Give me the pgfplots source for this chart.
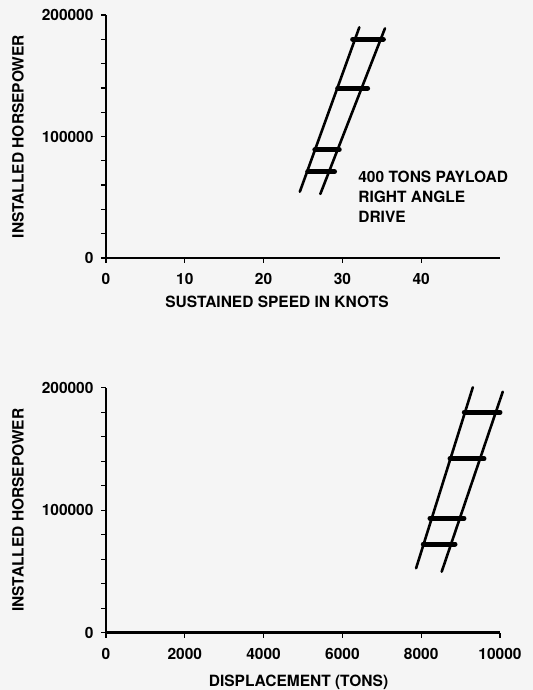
\documentclass[border=0pt]{standalone}
\usepackage{fontspec}
\setmainfont{TeX Gyre Heros}
\usepackage{pgfplots}
\pgfplotsset{compat=1.18}
\newcommand{\lblfont}{\fontsize{15.5bp}{18bp}\selectfont\bfseries}
\pgfplotsset{
  ladderax/.style={
    scale only axis, width=394bp,
    axis x line=bottom, axis y line=left,
    x axis line style={-, line width=2.5pt},
    y axis line style={-, line width=1.8pt},
    tick align=outside,
    major tick length=5bp, minor tick length=5bp,
    every tick/.style={black, line width=1.3pt},
    ytick={0,100000,200000},
    minor ytick={20000,40000,60000,80000,120000,140000,160000,180000},
    ymin=0, ymax=200000,
    scaled ticks=false,
    /pgf/number format/fixed,
    /pgf/number format/precision=0,
    /pgf/number format/1000 sep={},
    /pgf/number format/assume math mode=true,
    ticklabel style={font=\fontsize{15.5bp}{17bp}\selectfont\bfseries},
    yticklabel style={xshift=-4bp},
    xticklabel style={yshift=-7bp},
    clip=false,
    ylabel={INSTALLED HORSEPOWER},
    every axis y label/.style={at={(axis description cs:-0.2234,0.5)}, anchor=center, rotate=90, font=\lblfont},
  },
  rail/.style={black, line width=2.6pt, line cap=round, no marks},
  rung/.style={black, line width=5pt, line cap=round, no marks},
}
\begin{document}
\begin{tikzpicture}
\coordinate (TL) at (106bp,432bp);
\coordinate (BL) at (106bp,57.3bp);
\fill[black!4] (0bp,0bp) rectangle (533bp,690bp);
\path[use as bounding box] (0bp,0bp) rectangle (533bp,690bp);

% top chart
\begin{axis}[ladderax, at={(TL)}, anchor=south west, height=243bp,
  xmin=0, xmax=50, xtick={0,10,20,30,40},
  xlabel={SUSTAINED SPEED IN KNOTS},
  every axis x label/.style={at={(axis description cs:0.434,-0.18)}, anchor=center, font=\lblfont},
]
\addplot[rail] coordinates {(24.6,54560) (32.15,189900)};
\addplot[rail] coordinates {(27.2,52700) (35.4,189000)};
\addplot[rung] coordinates {(31.3,180000) (35.2,180000)};
\addplot[rung] coordinates {(29.4,139700) (33.2,139700)};
\addplot[rung] coordinates {(26.5,89000) (29.6,89000)};
\addplot[rung] coordinates {(25.6,71000) (29.0,71000)};
\node[anchor=north west, inner sep=0, align=left,
  font=\fontsize{15.5bp}{20bp}\selectfont\bfseries]
  at (axis cs:32.0,71500) {400 TONS PAYLOAD\\RIGHT ANGLE\\DRIVE};
\end{axis}

% bottom chart
\begin{axis}[ladderax, at={(BL)}, anchor=south west, height=245bp,
  xmin=0, xmax=10000, xtick={0,2000,4000,6000,8000,10000},
  xlabel={DISPLACEMENT (TONS)},
  every axis x label/.style={at={(axis description cs:0.4886,-0.201)}, anchor=center, font=\lblfont},
]
\addplot[rail] coordinates {(7870,52600) (9310,200300)};
\addplot[rail] coordinates {(8520,49800) (10070,196700)};
\addplot[rung] coordinates {(9094,180000) (10000,180000)};
\addplot[rung] coordinates {(8731,142000) (9594,142000)};
\addplot[rung] coordinates {(8223,93400) (9086,93400)};
\addplot[rung] coordinates {(8053,72400) (8858,72400)};
\end{axis}
\end{tikzpicture}
\end{document}
